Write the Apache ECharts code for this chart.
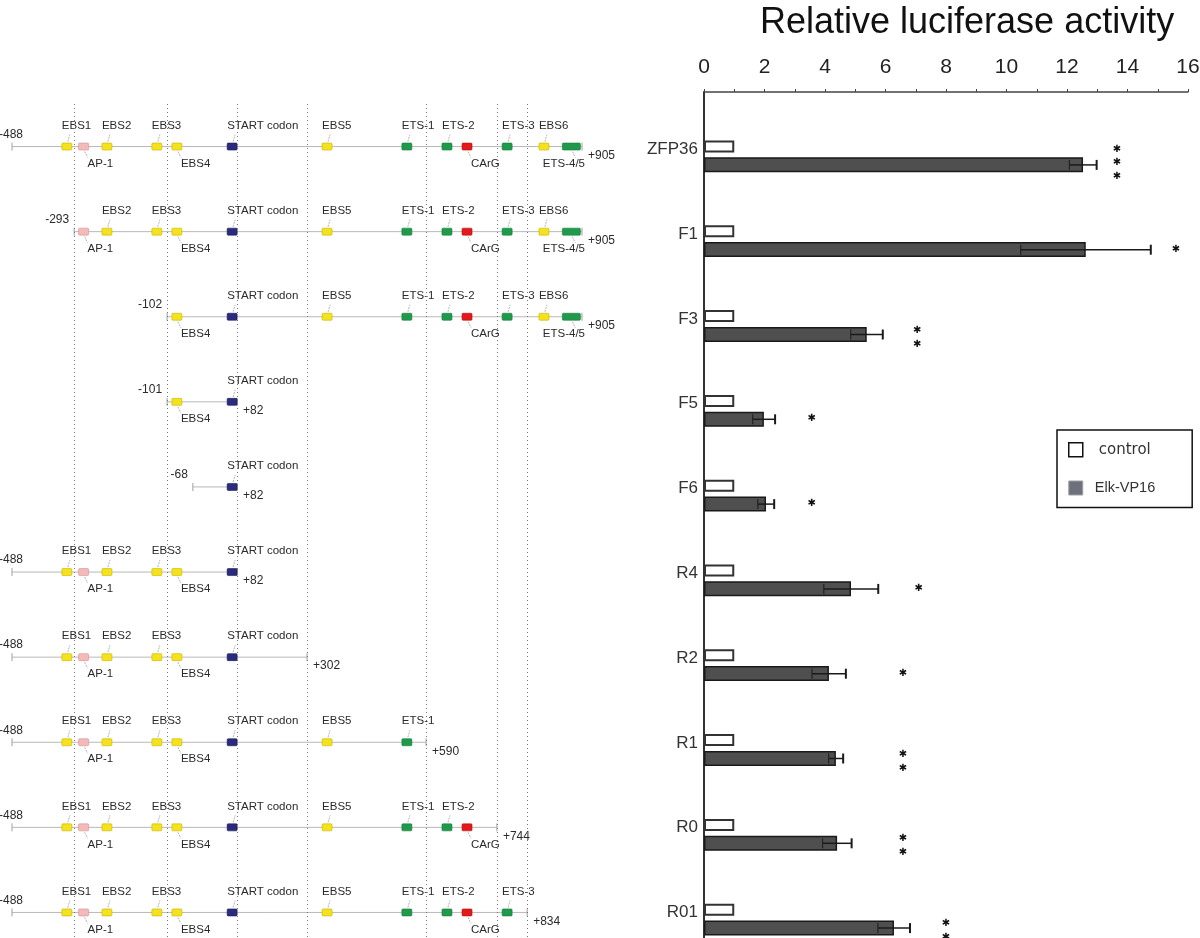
<!DOCTYPE html>
<html>
<head>
<meta charset="utf-8">
<script src="https://cdn.jsdelivr.net/npm/echarts@6/dist/echarts.min.js"></script>
<style>html,body{margin:0;padding:0;background:#fff;overflow:hidden}#chart{width:1200px;height:990px}</style>
</head>
<body>
<div id="chart"></div>
<script>
// ---- bar chart data ----
const constructs = ['ZFP36','F1','F3','F5','F6','R4','R2','R1','R0','R01'];
const controlValues = [1,1,1,1,1,1,1,1,1,1];
const elkValues = [12.53,12.62,5.38,1.98,2.05,4.86,4.13,4.36,4.40,6.28];
const elkErrors = [0.45,2.15,0.53,0.37,0.27,0.90,0.56,0.24,0.48,0.53];
const starX = [13.65,15.6,7.05,3.56,3.56,7.1,6.58,6.58,6.58,8.0];
const starCount = [3,1,2,1,1,1,1,2,2,2];
const seriesNames = ['control','Elk-VP16'];
const titleText = 'Relative luciferase activity';

// ---- promoter map data (map axis is not to scale; values are map positions) ----
const constructStartLabel = ['-488','-293','-102','-101','-68','-488','-488','-488','-488','-488'];
const constructEndLabel = ['+905','+905','+905','+82','+82','+82','+302','+590','+744','+834'];
const constructStart = [-488,-336,-109,-109,-46,-488,-488,-488,-488,-488];
const constructEnd = [905,905,905,62,62,62,233,524,697,771];
const featureNames = ['EBS1','AP-1','EBS2','EBS3','EBS4','START codon','EBS5','ETS-1','ETS-2','CArG','ETS-3','EBS6','ETS-4/5'];
const featureTypes = ['EBS','AP1','EBS','EBS','EBS','START','EBS','ETS','ETS','CArG','ETS','EBS','ETS'];
const featurePos = [-354,-313,-256,-134,-85,50,282,477,575,624,722,812,879];
const featureSites = [1,1,1,1,1,1,1,1,1,1,1,1,2];
const guidePos = [-336,-109,62,233,524,697,771];

// ---- styles ----
const belowSet = new Set(['AP-1','EBS4','CArG','ETS-4/5']);
const featColor = {
  EBS:['#f3e21c','#c9b400'], AP1:['#f4baba','#d49090'], START:['#2b2b7e','#1a1a5a'],
  ETS:['#1f9a4b','#157a38'], CArG:['#e3191b','#b01010']
};
const mapFont = {fontSize:11.5, fontFamily:'Liberation Sans', fill:'#2a2a2a'};

function mapRender(params, api){
  const i = api.value(0), s = api.value(1), e = api.value(2);
  const ps = api.coord([s, i]);
  const xs = ps[0], y = ps[1];
  const xe = api.coord([e, i])[0];
  const kids = [];
  kids.push({type:'line', shape:{x1:xs,y1:y,x2:xe,y2:y}, style:{stroke:'#b8b8b8', lineWidth:1}});
  kids.push({type:'line', shape:{x1:xs,y1:y-4,x2:xs,y2:y+4}, style:{stroke:'#a0a0a0', lineWidth:1}});
  kids.push({type:'line', shape:{x1:xe,y1:y-4,x2:xe,y2:y+4}, style:{stroke:'#a0a0a0', lineWidth:1}});
  kids.push({type:'text', z2:5, style:Object.assign({text:constructStartLabel[i], x:Math.max(xs-5,23), y:y-12, align:'right', verticalAlign:'middle'}, mapFont, {fontSize:12})});
  kids.push({type:'text', z2:5, style:Object.assign({text:constructEndLabel[i], x:xe+6, y:y+9, align:'left', verticalAlign:'middle'}, mapFont, {fontSize:12})});
  featureNames.forEach(function(name,k){
    const p = featurePos[k];
    if (p < s || p > e) return;
    const cx = api.coord([p, i])[0];
    const w = featureSites[k] === 2 ? 18 : 10;
    const c = featColor[featureTypes[k]];
    kids.push({type:'rect', z2:3, shape:{x:cx-w/2, y:y-3.5, width:w, height:7, r:1}, style:{fill:c[0], stroke:c[1], lineWidth:0.6}});
    if (belowSet.has(name)) {
      kids.push({type:'line', shape:{x1:cx+1,y1:y+5,x2:cx+4,y2:y+11}, style:{stroke:'#a0a0a0', lineWidth:0.8, lineDash:[2,1]}});
      const estW = name.length * 6.3;
      const right = cx + 4 + estW > xe + 6;
      kids.push({type:'text', z2:5, style:Object.assign({text:name, x: right ? xe+3 : cx+4, y:y+17, align: right ? 'right' : 'left', verticalAlign:'middle'}, mapFont)});
    } else {
      kids.push({type:'line', shape:{x1:cx+1,y1:y-5,x2:cx+3,y2:y-12}, style:{stroke:'#a0a0a0', lineWidth:0.8, lineDash:[2,1]}});
      kids.push({type:'text', z2:5, style:Object.assign({text:name, x:cx-5, y:y-21, align:'left', verticalAlign:'middle'}, mapFont)});
    }
  });
  return {type:'group', children:kids};
}

function errRender(params, api){
  const i = api.value(0), v = api.value(1), se = api.value(2);
  const lo = api.coord([v-se, i]), hi = api.coord([v+se, i]);
  const y = lo[1] + 8.5;
  return {type:'group', children:[
    {type:'line', shape:{x1:lo[0],y1:y,x2:hi[0],y2:y}, style:{stroke:'#1a1a1a', lineWidth:1.5}},
    {type:'line', shape:{x1:hi[0],y1:y-5,x2:hi[0],y2:y+5}, style:{stroke:'#1a1a1a', lineWidth:2}},
    {type:'line', shape:{x1:lo[0],y1:y-5,x2:lo[0],y2:y+5}, style:{stroke:'#222', lineWidth:1.2}}
  ]};
}

const starOffsets = {1:[8], 2:[4,18], 3:[-7,6,20]};
function starRender(params, api){
  const i = api.value(0), x = api.value(1), n = api.value(2);
  const p = api.coord([x, i]);
  return {type:'group', children: starOffsets[n].map(function(o){
    return {type:'text', style:{text:'\u2731', x:p[0], y:p[1]+o, align:'center', verticalAlign:'middle', fontSize:10, fontFamily:'DejaVu Sans', fill:'#111'}};
  })};
}

const chart = echarts.init(document.getElementById('chart'));
chart.setOption({
  animation:false,
  backgroundColor:'#fff',
  textStyle:{fontFamily:'Liberation Sans'},
  title:{text:titleText, left:755, top:0, textStyle:{fontSize:36, fontWeight:'normal', color:'#111', fontFamily:'Liberation Sans'}},
  legend:{
    left:1057, top:430, orient:'vertical', selectedMode:false,
    itemWidth:14, itemHeight:14, itemGap:23, padding:[12,37,12,11],
    borderColor:'#111', borderWidth:1.5,
    data:[
      {name:seriesNames[0], icon:'rect', itemStyle:{color:'#fff', borderColor:'#111', borderWidth:1.5}},
      {name:seriesNames[1], icon:'rect', itemStyle:{color:'#6e717d', borderColor:'#a0a0a0', borderWidth:1}}
    ],
    formatter:function(n){ return n === seriesNames[0] ? '{a|' + n + '}' : '{b|' + n + '}'; },
    textStyle:{color:'#333', rich:{
      a:{fontFamily:'DejaVu Sans', fontSize:15, color:'#333', padding:[0,0,0,11]},
      b:{fontFamily:'Liberation Sans', fontSize:14.5, color:'#333', padding:[0,0,0,7]}
    }}
  },
  grid:[
    {left:12, width:570, top:104, height:851, outerBoundsMode:'none'},
    {left:704, width:484, top:114, height:848, outerBoundsMode:'none'},
    {left:704, width:484, top:92, height:860, outerBoundsMode:'none'}
  ],
  xAxis:[
    {gridIndex:0, type:'value', min:-488, max:905, show:false},
    {gridIndex:1, type:'value', min:0, max:16, interval:2, position:'top', offset:22,
      axisLine:{show:true, lineStyle:{color:'#444', width:1.5}},
      axisTick:{show:true, length:3, lineStyle:{color:'#444'}},
      minorTick:{show:true, splitNumber:2, length:3, lineStyle:{color:'#444'}},
      axisLabel:{fontSize:21, color:'#222', fontFamily:'Liberation Sans', margin:14},
      splitLine:{show:false}},
    {gridIndex:2, type:'value', show:false}
  ],
  yAxis:[
    {gridIndex:0, type:'category', data:constructs, inverse:true, show:false},
    {gridIndex:1, type:'category', data:constructs, inverse:true,
      axisLine:{show:false}, axisTick:{show:false},
      axisLabel:{fontSize:17, color:'#333', margin:6, verticalAlign:'bottom', lineHeight:14}},
    {gridIndex:2, type:'value', axisLine:{show:true, lineStyle:{color:'#333', width:2}},
      axisLabel:{show:false}, axisTick:{show:false}, splitLine:{show:false}}
  ],
  series:[
    {type:'bar', name:seriesNames[0], xAxisIndex:1, yAxisIndex:1, data:controlValues,
      barWidth:12, barGap:'40%', itemStyle:{color:'#fff', borderColor:'#333', borderWidth:2}},
    {type:'bar', name:seriesNames[1], xAxisIndex:1, yAxisIndex:1, data:elkValues,
      barWidth:15, barGap:'40%', itemStyle:{color:'#4f4f4f', borderColor:'#1a1a1a', borderWidth:1.5}},
    {type:'custom', name:'error', xAxisIndex:1, yAxisIndex:1, z:5,
      data:constructs.map(function(c,i){ return [i, elkValues[i], elkErrors[i]]; }),
      encode:{y:0, x:1}, renderItem:errRender},
    {type:'custom', name:'significance', xAxisIndex:1, yAxisIndex:1, z:5,
      data:constructs.map(function(c,i){ return [i, starX[i], starCount[i]]; }),
      encode:{y:0, x:1}, renderItem:starRender},
    {type:'custom', name:'map', xAxisIndex:0, yAxisIndex:0, clip:false,
      data:constructs.map(function(c,i){ return [i, constructStart[i], constructEnd[i]]; }),
      encode:{y:0, x:[1,2]}, renderItem:mapRender,
      markLine:{silent:true, symbol:'none', label:{show:false}, animation:false,
        lineStyle:{type:[1,3], color:'#777', width:1},
        data:guidePos.map(function(v){ return {xAxis:v}; })}}
  ]
});
</script>
</body>
</html>
